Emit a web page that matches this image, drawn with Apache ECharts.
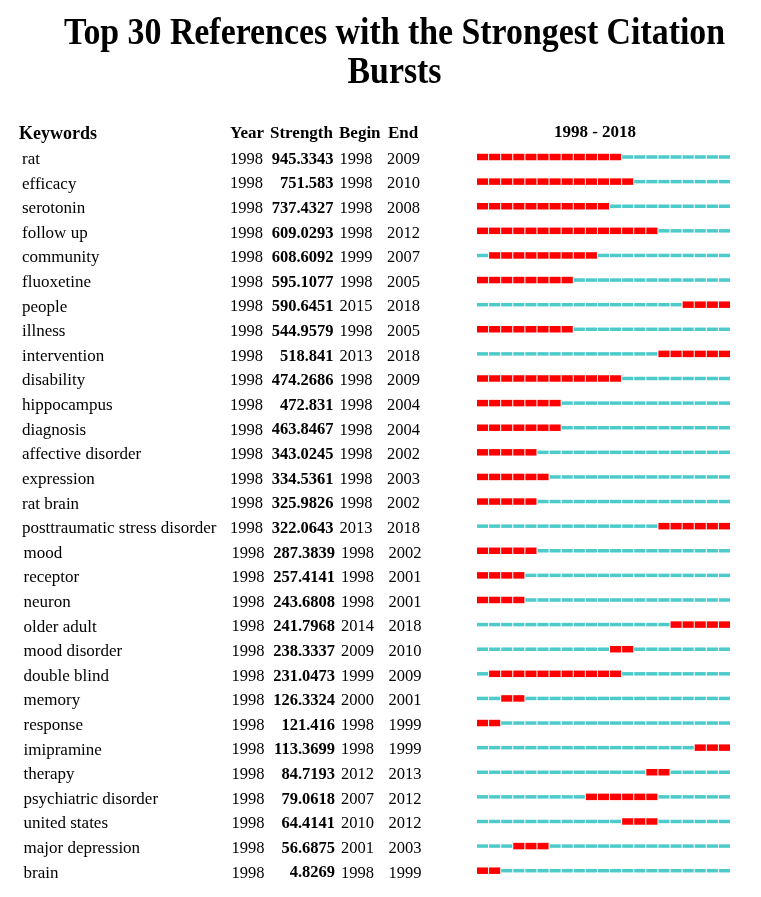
<!DOCTYPE html>
<html>
<head>
<meta charset="utf-8">
<script src="https://cdn.jsdelivr.net/npm/echarts@6/dist/echarts.min.js"></script>
<style>
html, body { margin: 0; padding: 0; background: #fff; }
#main { width: 761px; height: 897px; }
</style>
</head>
<body>
<div id="main"></div>
<script>
// keyword bursts, 1998 - 2018
var keywords = ['rat', 'efficacy', 'serotonin', 'follow up', 'community', 'fluoxetine', 'people', 'illness',
    'intervention', 'disability', 'hippocampus', 'diagnosis', 'affective disorder', 'expression', 'rat brain',
    'posttraumatic stress disorder', 'mood', 'receptor', 'neuron', 'older adult', 'mood disorder', 'double blind',
    'memory', 'response', 'imipramine', 'therapy', 'psychiatric disorder', 'united states', 'major depression', 'brain'];
var years = [1998, 1998, 1998, 1998, 1998, 1998, 1998, 1998, 1998, 1998, 1998, 1998, 1998, 1998, 1998,
    1998, 1998, 1998, 1998, 1998, 1998, 1998, 1998, 1998, 1998, 1998, 1998, 1998, 1998, 1998];
var strengths = ['945.3343', '751.583', '737.4327', '609.0293', '608.6092', '595.1077', '590.6451', '544.9579',
    '518.841', '474.2686', '472.831', '463.8467', '343.0245', '334.5361', '325.9826', '322.0643', '287.3839',
    '257.4141', '243.6808', '241.7968', '238.3337', '231.0473', '126.3324', '121.416', '113.3699', '84.7193',
    '79.0618', '64.4141', '56.6875', '4.8269'];
var begins = [1998, 1998, 1998, 1998, 1999, 1998, 2015, 1998, 2013, 1998, 1998, 1998, 1998, 1998, 1998,
    2013, 1998, 1998, 1998, 2014, 2009, 1999, 2000, 1998, 1998, 2012, 2007, 2010, 2001, 1998];
var ends = [2009, 2010, 2008, 2012, 2007, 2005, 2018, 2005, 2018, 2009, 2004, 2004, 2002, 2003, 2002,
    2018, 2002, 2001, 2001, 2018, 2010, 2009, 2001, 1999, 1999, 2013, 2012, 2012, 2003, 1999];
// red segments as drawn (imipramine is drawn at the end of the range)
var barBegins = [1998, 1998, 1998, 1998, 1999, 1998, 2015, 1998, 2013, 1998, 1998, 1998, 1998, 1998, 1998,
    2013, 1998, 1998, 1998, 2014, 2009, 1999, 2000, 1998, 2016, 2012, 2007, 2010, 2001, 1998];
var barEnds = [2009, 2010, 2008, 2012, 2007, 2005, 2018, 2005, 2018, 2009, 2004, 2004, 2002, 2003, 2002,
    2018, 2002, 2001, 2001, 2018, 2010, 2009, 2001, 1999, 2018, 2013, 2012, 2012, 2003, 1999];
var firstYear = 1998, lastYear = 2018;

var SERIF = '"Liberation Serif", "Times New Roman", serif';
var nYears = lastYear - firstYear + 1;

var segData = [];
for (var i = 0; i < keywords.length; i++) {
    for (var k = 0; k < nYears; k++) {
        var yr = firstYear + k;
        segData.push([k, i, (yr >= barBegins[i] && yr <= barEnds[i]) ? 1 : 0]);
    }
}
var rowData = [];
for (var i = 0; i < keywords.length; i++) rowData.push([0, i]);

var myChart = echarts.init(document.getElementById('main'));

function txt(str, x, y, size, bold, align) {
    return {
        type: 'text', x: x, y: y, silent: true,
        style: {
            text: str, fill: '#000', align: align || 'left', verticalAlign: 'middle',
            font: (bold ? 'bold ' : '') + size + 'px ' + SERIF
        }
    };
}

var option = {
    backgroundColor: '#fff',
    animation: false,
    grid: { left: 477, right: 30, top: 144.7, bottom: 14 },
    xAxis: { type: 'value', min: 0, max: nYears, show: false },
    yAxis: { type: 'category', data: keywords, inverse: true, show: false },
    graphic: [
        {
            type: 'text', x: 394.5, y: 34, scaleX: 0.94, scaleY: 1.05, silent: true,
            style: { text: 'Top 30 References with the Strongest Citation', fill: '#000', align: 'center',
                verticalAlign: 'middle', font: 'bold 36px ' + SERIF }
        },
        {
            type: 'text', x: 394.5, y: 73, scaleX: 0.94, scaleY: 1.05, silent: true,
            style: { text: 'Bursts', fill: '#000', align: 'center', verticalAlign: 'middle',
                font: 'bold 36px ' + SERIF }
        },
        txt('Keywords', 19, 134, 18, true),
        txt('Year', 230, 134, 17, true),
        txt('Strength', 270, 134, 17, true),
        txt('Begin', 339, 134, 17, true),
        txt('End', 388, 134, 17, true),
        txt(firstYear + ' - ' + lastYear, 595, 133, 17, true, 'center')
    ],
    series: [
        {
            type: 'custom',
            name: 'segments',
            clip: false,
            data: segData,
            renderItem: function (params, api) {
                var p0 = api.coord([api.value(0), api.value(1)]);
                var p1 = api.coord([api.value(0) + 1, api.value(1)]);
                var burst = api.value(2) === 1;
                var h = burst ? 6.5 : 3.5;
                return {
                    type: 'rect',
                    shape: { x: p0[0], y: p0[1] - h / 2, width: p1[0] - p0[0] - 1, height: h },
                    style: { fill: burst ? '#ff0000' : '#4dcaca' }
                };
            }
        },
        {
            type: 'custom',
            name: 'table',
            clip: false,
            data: rowData,
            renderItem: function (params, api) {
                var i = api.value(1);
                var y = api.coord([0, i])[1] + 2.5;
                var dx = i >= 16 ? 1.5 : 0;
                return {
                    type: 'group',
                    children: [
                        txt(keywords[i], 22 + dx, y, 17, false),
                        txt(String(years[i]), 230 + dx, y, 16.5, false),
                        txt(strengths[i], 333.5 + dx, y, 16.5, true, 'right'),
                        txt(String(begins[i]), 339.5 + dx, y, 16.5, false),
                        txt(String(ends[i]), 387 + dx, y, 16.5, false)
                    ]
                };
            }
        }
    ]
};
myChart.setOption(option);
</script>
</body>
</html>
